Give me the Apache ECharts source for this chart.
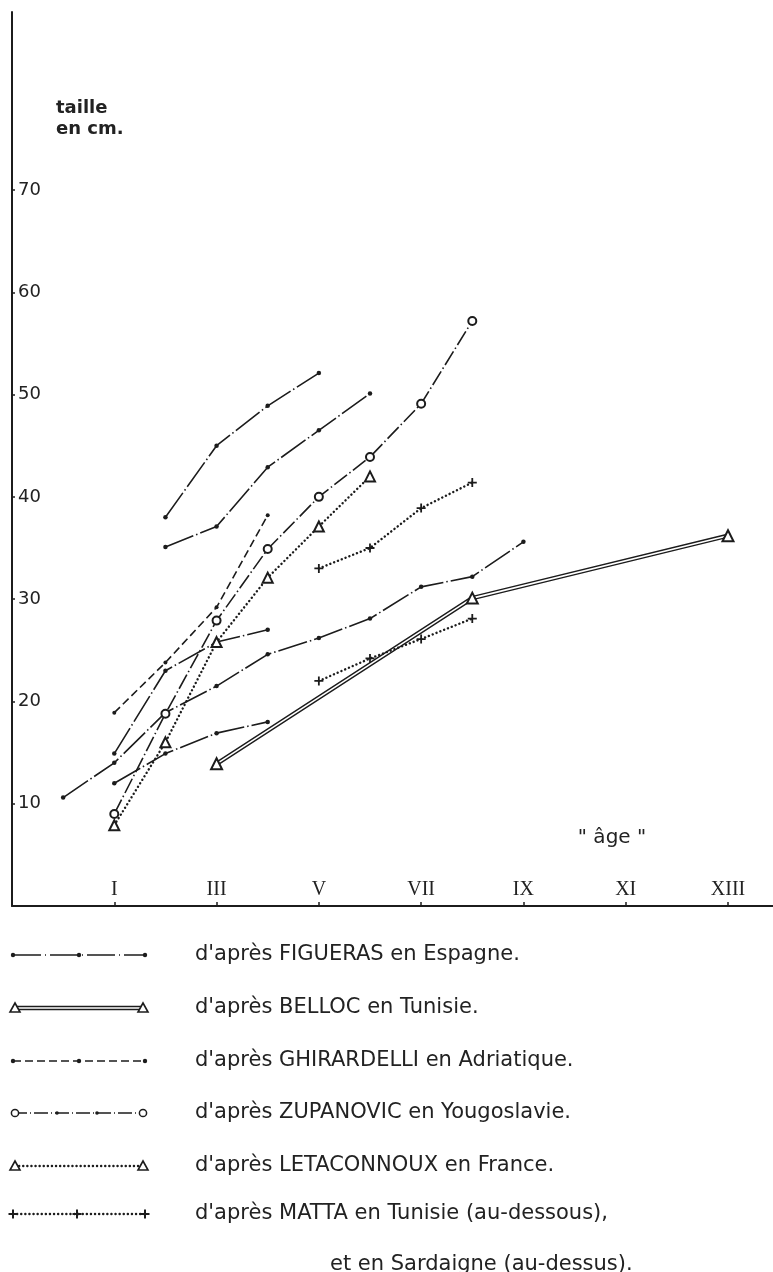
<!DOCTYPE html>
<html>
<head>
<meta charset="utf-8">
<script src="https://cdn.jsdelivr.net/npm/echarts@6/dist/echarts.min.js"></script>
<style>
html,body{margin:0;padding:0;background:#fff;}
#chart{width:773px;height:1272px;}
</style>
</head>
<body>
<div id="chart"></div>
<script>
// ---- tick labels ----
const ageTicks = [1, 3, 5, 7, 9, 11, 13];
const ageLabels = ['I', 'III', 'V', 'VII', 'IX', 'XI', 'XIII'];
const sizeTicks = [10, 20, 30, 40, 50, 60, 70];

// ---- series values [age, taille en cm] ----
const figuerasA = [[2, 38], [3, 45], [4, 48.9], [5, 52.1]];
const figuerasB = [[2, 35.1], [3, 37.1], [4, 42.9], [5, 46.5], [6, 50.1]];
const figuerasC = [[0, 10.6], [1, 14], [2, 18.9], [3, 21.5], [4, 24.6], [5, 26.2], [6, 28.1], [7, 31.2], [8, 32.2], [9, 35.6]];
const figuerasD = [[1, 14.9], [2, 23], [3, 25.8], [4, 27]];
const figuerasE = [[1, 12], [2, 14.9], [3, 16.9], [4, 18]];
const belloc = [[3, 13.9], [8, 30.1], [13, 36.2]];
const ghirardelli = [[1, 18.9], [2, 23.8], [3, 29.2], [4, 38.2]];
const zupanovic = [[1, 9], [2, 18.8], [3, 27.9], [4, 34.9], [5, 40], [6, 43.9], [7, 49.1], [8, 57.2]];
const letaconnoux = [[1, 7.9], [2, 16], [3, 25.8], [4, 32.1], [5, 37.1], [6, 42]];
const mattaTunisie = [[5, 22], [6, 24.2], [7, 26.1], [8, 28.1]];
const mattaSardaigne = [[5, 33], [6, 35], [7, 38.9], [8, 41.4]];

// ---- legend texts ----
const legendTexts = [
  "d'après FIGUERAS en Espagne.",
  "d'après BELLOC en Tunisie.",
  "d'après GHIRARDELLI en Adriatique.",
  "d'après ZUPANOVIC en Yougoslavie.",
  "d'après LETACONNOUX en France.",
  "d'après MATTA en Tunisie (au-dessous),"
];
const legendExtra = "et en Sardaigne (au-dessus).";

const INK = '#1c1c1c';
const PLUS = 'path://M4,0 L6,0 L6,4 L10,4 L10,6 L6,6 L6,10 L4,10 L4,6 L0,6 L0,4 L4,4 Z';
const FIG_DASH = [30, 3, 1.5, 3];
const ZUP_DASH = [16, 3, 1.5, 3];
const GHI_DASH = [8, 4];
const DOT_DASH = [0.1, 4];

function figSeries(data) {
  return {
    type: 'line', data: data, symbol: 'circle', symbolSize: 4.5,
    itemStyle: { color: INK },
    lineStyle: { color: INK, width: 1.6, type: FIG_DASH },
    z: 3
  };
}

const series = [
  figSeries(figuerasA), figSeries(figuerasB), figSeries(figuerasC),
  figSeries(figuerasD), figSeries(figuerasE),
  { type: 'line', data: belloc, symbol: 'none', lineStyle: { color: INK, width: 4.4 }, z: 2 },
  { type: 'line', data: belloc, symbol: 'none', lineStyle: { color: '#fff', width: 1.6 }, z: 2.1 },
  { type: 'line', data: belloc, symbol: 'emptyTriangle', symbolSize: 11, lineStyle: { opacity: 0 },
    itemStyle: { color: INK, borderColor: INK, borderWidth: 1.6 }, z: 2.2 },
  { type: 'line', data: ghirardelli, symbol: 'circle', symbolSize: 4,
    itemStyle: { color: INK }, lineStyle: { color: INK, width: 1.6, type: GHI_DASH }, z: 3 },
  { type: 'line', data: zupanovic, symbol: 'emptyCircle', symbolSize: 8,
    itemStyle: { color: INK, borderColor: INK, borderWidth: 1.5 },
    lineStyle: { color: INK, width: 1.6, type: ZUP_DASH }, z: 4 },
  { type: 'line', data: letaconnoux, symbol: 'emptyTriangle', symbolSize: 10,
    itemStyle: { color: INK, borderColor: INK, borderWidth: 1.5 },
    lineStyle: { color: INK, width: 2.4, type: DOT_DASH, cap: 'round' }, z: 4 },
  { type: 'line', data: mattaTunisie, symbol: PLUS, symbolSize: 9,
    itemStyle: { color: INK }, lineStyle: { color: INK, width: 2.4, type: DOT_DASH, cap: 'round' }, z: 4 },
  { type: 'line', data: mattaSardaigne, symbol: PLUS, symbolSize: 9,
    itemStyle: { color: INK }, lineStyle: { color: INK, width: 2.4, type: DOT_DASH, cap: 'round' }, z: 4 }
];

// ---- legend drawing (decorative samples) ----
const rowY = [955, 1008, 1061, 1113, 1166, 1214];
const SX1 = 13, SX2 = 145, SXM = 79;
const g = [];
function seg(y, dash, w) {
  g.push({ type: 'line', shape: { x1: SX1, y1: y, x2: SX2, y2: y },
    style: { stroke: INK, lineWidth: w || 1.6, lineDash: dash || null } });
}
function dot(x, y, r) { g.push({ type: 'circle', shape: { cx: x, cy: y, r: r || 2.2 }, style: { fill: INK } }); }
function ring(x, y) { g.push({ type: 'circle', shape: { cx: x, cy: y, r: 3.6 }, style: { fill: '#fff', stroke: INK, lineWidth: 1.5 } }); }
function tri(x, y) {
  g.push({ type: 'polygon', shape: { points: [[x, y - 5], [x + 5, y + 4], [x - 5, y + 4]] },
    style: { fill: '#fff', stroke: INK, lineWidth: 1.6 } });
}
function plus(x, y) {
  g.push({ type: 'rect', shape: { x: x - 4.5, y: y - 1, width: 9, height: 2 }, style: { fill: INK } });
  g.push({ type: 'rect', shape: { x: x - 1, y: y - 4.5, width: 2, height: 9 }, style: { fill: INK } });
}
// Figueras
seg(rowY[0], [28, 4, 1, 4]); dot(SX1, rowY[0]); dot(SXM, rowY[0]); dot(SX2, rowY[0]);
// Belloc
g.push({ type: 'line', shape: { x1: SX1 + 4, y1: rowY[1], x2: SX2 - 4, y2: rowY[1] }, style: { stroke: INK, lineWidth: 4.4 } });
g.push({ type: 'line', shape: { x1: SX1 + 4, y1: rowY[1], x2: SX2 - 4, y2: rowY[1] }, style: { stroke: '#fff', lineWidth: 1.6 } });
tri(SX1 + 2, rowY[1]); tri(SX2 - 2, rowY[1]);
// Ghirardelli
seg(rowY[2], GHI_DASH); dot(SX1, rowY[2]); dot(SXM, rowY[2]); dot(SX2, rowY[2]);
// Zupanovic
seg(rowY[3], [14, 3, 1, 3]); ring(SX1 + 2, rowY[3]); dot(57, rowY[3], 1.8); dot(97, rowY[3], 1.8); ring(SX2 - 2, rowY[3]);
// Letaconnoux
g.push({ type: 'line', shape: { x1: SX1 + 2, y1: rowY[4], x2: SX2 - 2, y2: rowY[4] },
  style: { stroke: INK, lineWidth: 2.4, lineDash: DOT_DASH, lineCap: 'round' } });
tri(SX1 + 2, rowY[4]); tri(SX2 - 2, rowY[4]);
// Matta
g.push({ type: 'line', shape: { x1: SX1, y1: rowY[5], x2: SX2, y2: rowY[5] },
  style: { stroke: INK, lineWidth: 2.4, lineDash: DOT_DASH, lineCap: 'round' } });
plus(SX1, rowY[5]); plus(SXM - 2, rowY[5]); plus(SX2, rowY[5]);

legendTexts.forEach(function (t, i) {
  g.push({ type: 'text', x: 195, y: rowY[i],
    style: { text: t, fill: '#222', fontSize: 21, fontFamily: 'DejaVu Sans', verticalAlign: 'middle' } });
});
g.push({ type: 'text', x: 330, y: 1265,
  style: { text: legendExtra, fill: '#222', fontSize: 21, fontFamily: 'DejaVu Sans', verticalAlign: 'middle' } });
// axis titles
g.push({ type: 'text', x: 56, y: 98,
  style: { text: 'taille\nen cm.', fill: '#222', fontSize: 18, fontWeight: 'bold', fontFamily: 'DejaVu Sans', lineHeight: 21 } });
g.push({ type: 'text', x: 612, y: 838,
  style: { text: '" âge "', fill: '#222', fontSize: 20, fontFamily: 'DejaVu Sans', align: 'center', verticalAlign: 'middle' } });

const chart = echarts.init(document.getElementById('chart'), null, { renderer: 'canvas' });
chart.setOption({
  animation: false,
  backgroundColor: '#fff',
  grid: { left: 12, right: 0, top: 12, bottom: 366, containLabel: false },
  xAxis: {
    type: 'value', min: -1, max: 13.88,
    axisLine: { onZero: false, lineStyle: { color: INK, width: 2 } },
    axisTick: { customValues: ageTicks, inside: true, length: 4, lineStyle: { color: INK, width: 1.5 } },
    axisLabel: {
      customValues: ageTicks, inside: true, margin: 6,
      formatter: function (v) { const i = ageTicks.indexOf(v); return i >= 0 ? ageLabels[i] : ''; },
      fontFamily: 'Liberation Serif', fontSize: 20, color: '#222'
    },
    splitLine: { show: false }
  },
  yAxis: {
    type: 'value', min: 0, max: 87.4,
    axisLine: { onZero: false, lineStyle: { color: INK, width: 2 } },
    axisTick: { customValues: sizeTicks, inside: true, length: 3, lineStyle: { color: INK, width: 1.5 } },
    axisLabel: {
      customValues: sizeTicks, inside: true, margin: 6,
      fontFamily: 'DejaVu Sans', fontSize: 18, color: '#222'
    },
    splitLine: { show: false }
  },
  series: series,
  graphic: { elements: g }
});
</script>
</body>
</html>
